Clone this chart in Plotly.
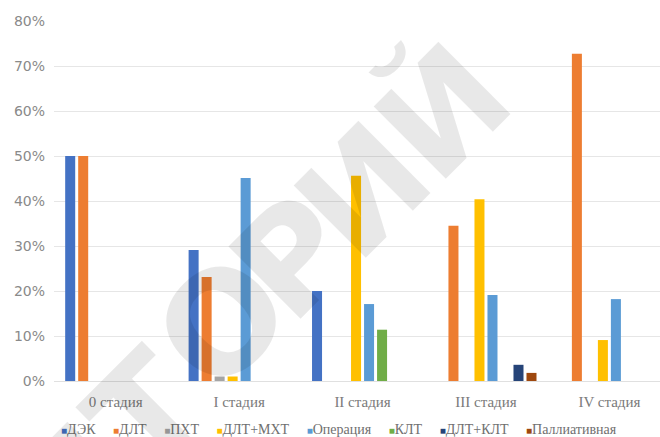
import plotly.graph_objects as go

categories = ["0 стадия", "I стадия", "II стадия", "III стадия", "IV стадия"]

series_names = ["ДЭК", "ДЛТ", "ПХТ", "ДЛТ+МХТ", "Операция", "КЛТ", "ДЛТ+КЛТ", "Паллиативная"]
series_colors = ["#4472C4", "#ED7D31", "#A5A5A5", "#FFC000", "#5B9BD5", "#70AD47", "#264478", "#9E480E"]

dek = [50.0, 29.1, 20.0, None, None]
dlt = [50.0, 23.1, None, 34.5, 72.7]
pht = [None, 1.0, None, None, None]
dlt_mht = [None, 1.0, 45.6, 40.4, 9.1]
operation = [None, 45.1, 17.1, 19.1, 18.2]
klt = [None, None, 11.4, None, None]
dlt_klt = [None, None, None, 3.6, None]
palliative = [None, None, None, 1.8, None]

series_values = [dek, dlt, pht, dlt_mht, operation, klt, dlt_klt, palliative]

y_ticks = [0, 10, 20, 30, 40, 50, 60, 70, 80]
y_tick_labels = [f"{v}%" for v in y_ticks]

watermark_letters = ["И", "Т", "О", "Р", "И", "Й"]

W, H = 660, 437
ML, MR, MT, MB = 54, 0, 21, 56
PW, PH = W - ML - MR, H - MT - MB

fig = go.Figure()
for name, color, vals in zip(series_names, series_colors, series_values):
    fig.add_trace(go.Bar(x=categories, y=vals, name=name, marker_color=color,
                         marker_line_width=0, showlegend=False))

# legend drawn as a text line with coloured squares (as in the original)
legend_parts = []
for name, color in zip(series_names, series_colors):
    legend_parts.append(
        f"<span style='color:{color};font-size:10px'>■</span>{name}")
legend_text = "&nbsp;&nbsp;&nbsp;&nbsp;&nbsp;".join(legend_parts)

fig.add_annotation(text=legend_text, xref="paper", yref="paper",
                   x=0.47, y=-0.135, xanchor="center", yanchor="middle",
                   showarrow=False,
                   font=dict(family="Liberation Serif", size=14, color="#6f6f6f"))

# faint diagonal watermark, one letter at a time
glyph_centres = [(77, 457), (152, 377), (227, 288), (298, 222), (368, 156), (448, 77)]
for (gx, gy), ch in zip(glyph_centres, watermark_letters):
    bx, by = gx - 5, gy + 35
    fig.add_annotation(text=ch, xref="paper", yref="paper",
                       x=(bx - ML) / PW, y=(H - MB - by) / PH,
                       xanchor="center", yanchor="middle",
                       showarrow=False, textangle=-45,
                       font=dict(family="DejaVu Sans", size=140, weight="bold",
                                 color="rgba(0,0,0,0.09)"))

fig.update_layout(
    width=W, height=H,
    margin=dict(l=ML, r=MR, t=MT, b=MB),
    paper_bgcolor="white", plot_bgcolor="white",
    barmode="group", bargap=0.157, bargroupgap=0.23,
    xaxis=dict(range=[-0.5, 4.41], showgrid=False, showline=False, zeroline=False,
               ticks="", ticklabelstandoff=10,
               tickfont=dict(family="Liberation Serif", size=15, color="#7a7a7a")),
    yaxis=dict(range=[0, 80], tickmode="array", tickvals=y_ticks, ticktext=y_tick_labels,
               showgrid=True, gridcolor="#e6e6e6", gridwidth=1,
               zeroline=True, zerolinecolor="#e0e0e0", zerolinewidth=1,
               showline=False, ticks="", ticklabelstandoff=8,
               tickfont=dict(family="DejaVu Sans", size=14, color="#8a8a8a")),
)

fig.write_html("out.html")
